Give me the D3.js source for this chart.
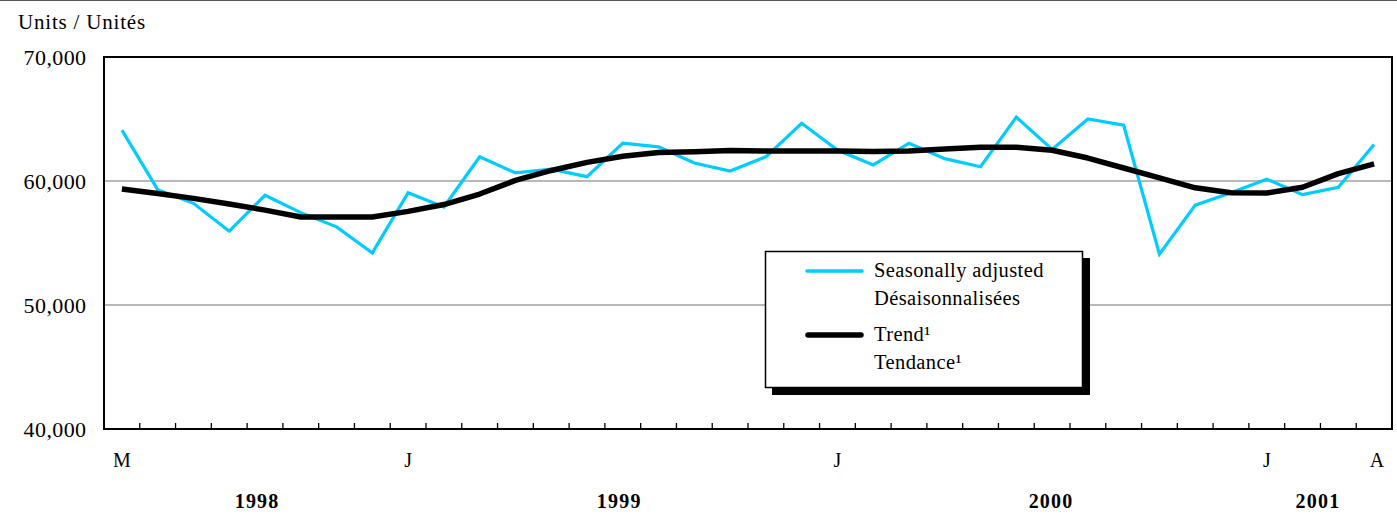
<!DOCTYPE html>
<html><head><meta charset="utf-8">
<script src="https://cdn.jsdelivr.net/npm/d3@7"></script>
<style>
body{margin:0;background:#fff;}
svg text{font-family:"Liberation Serif","Times New Roman",serif;fill:#000;}
</style></head>
<body><svg id="c" width="1397" height="514"></svg>
<script>
// Months May 1998 .. April 2001
const months = d3.range(36);
const monthLabels = [{i:0,t:"M"},{i:8,t:"J"},{i:20,t:"J"},{i:32,t:"J"},{i:35.08,t:"A"}];
const yearLabels = [{pos:3.78,t:"1998"},{pos:13.9,t:"1999"},{pos:25.97,t:"2000"},{pos:33.43,t:"2001"}];
const seasonal = [64100,59300,58200,55950,58850,57450,56300,54200,59050,57900,
  61950,60650,60950,60350,63050,62750,61450,60800,61950,64650,
  62500,61300,63050,61800,61150,65150,62550,65000,64500,54100,
  58050,59050,60150,58900,59500,62950];
const trend = [59350,59000,58600,58150,57650,57100,57100,57100,57550,58100,
  58950,60050,60850,61500,62000,62300,62350,62450,62420,62420,
  62420,62380,62420,62580,62720,62720,62480,61850,61050,60250,
  59450,59050,59030,59500,60600,61380];
const yTicks = [40000,50000,60000,70000];

const svg = d3.select("#c");
const L=104, R=1392, T=57, B=429;
const x = d3.scaleBand().domain(months).range([L,R]).padding(0);
const xc = i => x(0) + (i+0.5)*x.bandwidth();
const y = d3.scaleLinear().domain([40000,70000]).range([B,T]);

// top rule
svg.append("line").attr("x1",0).attr("x2",1397).attr("y1",0.5).attr("y2",0.5)
  .attr("stroke","#555").attr("stroke-width",1.2);

svg.append("text").attr("x",18).attr("y",29).attr("font-size",21).attr("letter-spacing",0.8).text("Units / Unités");

// gridlines
svg.append("g").selectAll("line").data([50000,60000]).join("line")
  .attr("x1",L).attr("x2",R).attr("y1",d=>y(d)).attr("y2",d=>y(d))
  .attr("stroke","#a0a0a0").attr("stroke-width",1.3);

// y labels
svg.append("g").selectAll("text").data(yTicks).join("text")
  .attr("x",86.5).attr("y",d=>y(d)).attr("dy","0.35em").attr("text-anchor","end")
  .attr("font-size",22).attr("letter-spacing",0.4).text(d=>d3.format(",")(d));

// x ticks (between months), pointing up
const tickPos = d3.range(1,36);
svg.append("g").selectAll("line").data(tickPos).join("line")
  .attr("x1",d=>x(d)).attr("x2",d=>x(d)).attr("y1",B).attr("y2",B-6)
  .attr("stroke","#000").attr("stroke-width",1.3);

// frame
svg.append("path").attr("d",`M${L},${B}V${T}H${R}V${B}Z`).attr("fill","none")
  .attr("stroke","#000").attr("stroke-width",2);

// lines
const line = d3.line().x((d,i)=>xc(i)).y(d=>y(d));
svg.append("path").datum(seasonal).attr("d",line).attr("fill","none")
  .attr("stroke","#00ccff").attr("stroke-width",3.2).attr("stroke-linejoin","miter");
svg.append("path").datum(trend).attr("d",line).attr("fill","none")
  .attr("stroke","#000").attr("stroke-width",5.5).attr("stroke-linejoin","round");

// month labels
svg.append("g").selectAll("text").data(monthLabels).join("text")
  .attr("x",d=>xc(d.i)).attr("y",467).attr("text-anchor","middle")
  .attr("font-size",20).text(d=>d.t);
svg.append("g").selectAll("text").data(yearLabels).join("text")
  .attr("x",d=>xc(d.pos)).attr("y",508).attr("text-anchor","middle")
  .attr("font-size",20).attr("letter-spacing",1.2).attr("font-weight","bold").text(d=>d.t);

// legend
const lg = svg.append("g");
lg.append("rect").attr("x",772).attr("y",258).attr("width",318).attr("height",137).attr("fill","#000");
lg.append("rect").attr("x",765.5).attr("y",251.5).attr("width",317).attr("height",136)
  .attr("fill","#fff").attr("stroke","#000").attr("stroke-width",1.5);
lg.append("line").attr("x1",807).attr("x2",862).attr("y1",271).attr("y2",271)
  .attr("stroke","#00ccff").attr("stroke-width",3.5).attr("stroke-linecap","round");
lg.append("line").attr("x1",808).attr("x2",861).attr("y1",335).attr("y2",335)
  .attr("stroke","#000").attr("stroke-width",5.5).attr("stroke-linecap","round");
const legTexts = [["Seasonally adjusted",277],["Désaisonnalisées",305],["Trend¹",341],["Tendance¹",369]];
lg.selectAll("text").data(legTexts).join("text").attr("x",874).attr("y",d=>d[1])
  .attr("font-size",20.5).attr("letter-spacing",0.4).text(d=>d[0]);
</script></body></html>
